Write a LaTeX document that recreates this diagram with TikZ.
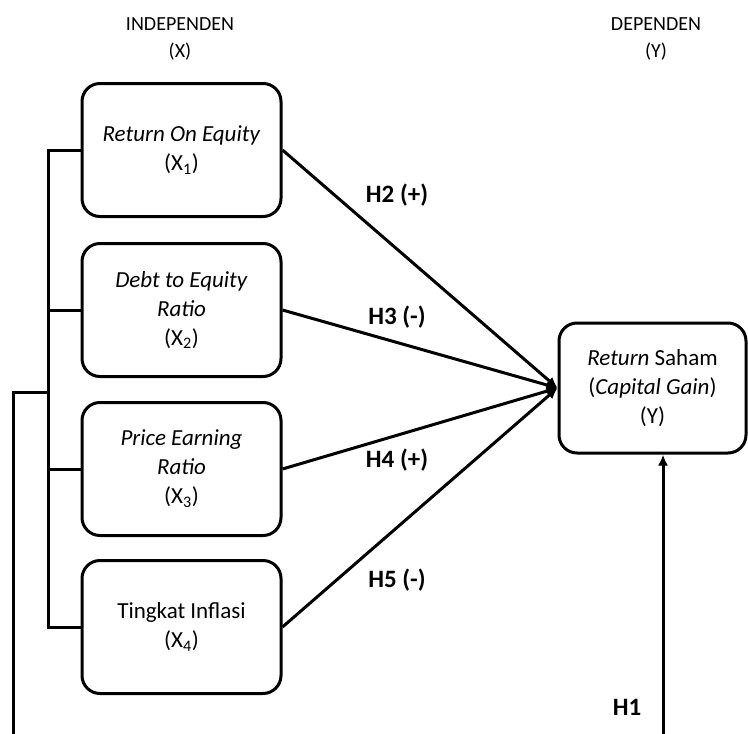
\documentclass[tikz,border=0pt]{standalone}
\usepackage{fontspec}
\setmainfont{Carlito}
\usetikzlibrary{positioning,arrows.meta}

\tikzset{
  varbox/.style={draw,line width=3pt,rounded corners=18pt,align=center,
    minimum width=199pt,minimum height=133pt,inner sep=0pt,
    font=\fontsize{23}{29}\selectfont},
  hyp/.style={font=\fontsize{25}{28}\selectfont\bfseries},
  head/.style={align=center,font=\fontsize{20}{27}\selectfont},
  link/.style={line width=3pt},
  arr/.style={line width=3pt,-{Latex[length=11pt,width=10pt]}}
}

\begin{document}
\begin{tikzpicture}[x=1pt,y=-1pt]
  \useasboundingbox (0,0) rectangle (748,734);
  \node [head] (indep) at (180,39) {INDEPENDEN\\(X)};
  \node [head] (dep) at (656,39) {DEPENDEN\\(Y)};
  \node [varbox] (x1) at (181.5,150) {\textit{Return On Equity}\\(X\textsubscript{1})};
  \node [varbox] (x2) at (181.5,310) {\textit{Debt to Equity}\\\textit{Ratio}\\(X\textsubscript{2})};
  \node [varbox] (x3) at (181.5,469) {\textit{Price Earning}\\\textit{Ratio}\\(X\textsubscript{3})};
  \node [varbox] (x4) at (181.5,627) {Tingkat Inflasi\\(X\textsubscript{4})};
  \node [varbox,minimum width=187pt,minimum height=130pt] (y) at (652.5,388)
    {\textit{Return} Saham\\(\textit{Capital Gain})\\(Y)};
  % bracket joining the four X boxes
  \coordinate (bk) at (48,150);
  \coordinate (jn) at (48,392);
  \coordinate (lo) at (13,734);
  \coordinate (ro) at (663,734);
  \draw [link] (x1.west) -- (bk) |- (x4.west);
  \draw [link] (x2.west) -- (x2.west -| bk);
  \draw [link] (x3.west) -- (x3.west -| bk);
  \draw [link] (jn) -- (jn -| lo) -- (lo);
  \draw [arr] (ro) -- (ro |- y.south);
  % partial effects
  \draw [arr] (x1.east) -- (y.west);
  \draw [arr] (x2.east) -- (y.west);
  \draw [arr] (x3.east) -- (y.west);
  \draw [arr] (x4.east) -- (y.west);
  \node [hyp] (h2) at (397,195) {H2 (+)};
  \node [hyp] (h3) at (397,317) {H3 (-)};
  \node [hyp] (h4) at (397,460) {H4 (+)};
  \node [hyp] (h5) at (397,580) {H5 (-)};
  \node [hyp] (h1) at (627,707) {H1};
\end{tikzpicture}
\end{document}
